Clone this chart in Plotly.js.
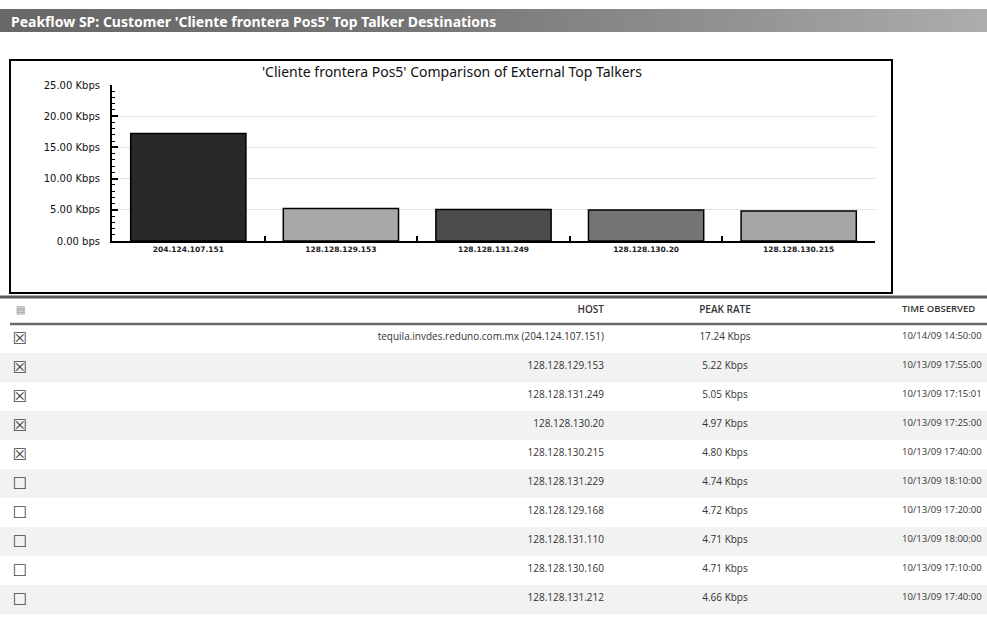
<!DOCTYPE html>
<html><head><meta charset="utf-8">
<script src="https://cdn.plot.ly/plotly-3.0.1.min.js"></script>
<style>
html,body{margin:0;padding:0;background:#fff;}
#wrap{position:relative;width:987px;height:633px;overflow:hidden;}
#bar{position:absolute;left:0;top:9px;width:987px;height:23px;background:linear-gradient(to right,#676767 0%,#747474 40%,#8e8e8e 70%,#adadad 100%);}
#chart{position:absolute;left:0;top:0;width:987px;height:633px;}
</style></head><body>
<div id="wrap"><div id="bar"></div><div id="chart"></div></div>
<script>
// ---- data ----
const pageTitle = "Peakflow SP: Customer 'Cliente frontera Pos5' Top Talker Destinations";
const chartTitle = "'Cliente frontera Pos5' Comparison of External Top Talkers";
const chartHosts = ["204.124.107.151", "128.128.129.153", "128.128.131.249", "128.128.130.20", "128.128.130.215"];
const tableHosts = ["tequila.invdes.reduno.com.mx (204.124.107.151)", "128.128.129.153", "128.128.131.249", "128.128.130.20", "128.128.130.215",
                    "128.128.131.229", "128.128.129.168", "128.128.131.110", "128.128.130.160", "128.128.131.212"];
const tableRates = [17.24, 5.22, 5.05, 4.97, 4.80, 4.74, 4.72, 4.71, 4.71, 4.66];
const tableTimes = ["10/14/09 14:50:00", "10/13/09 17:55:00", "10/13/09 17:15:01", "10/13/09 17:25:00", "10/13/09 17:40:00",
                    "10/13/09 18:10:00", "10/13/09 17:20:00", "10/13/09 18:00:00", "10/13/09 17:10:00", "10/13/09 17:40:00"];
const tableSelected = [true, true, true, true, true, false, false, false, false, false];
const tableHeaders = ["\u25A4", "HOST", "PEAK RATE", "", "TIME OBSERVED"];
const chartRates = tableRates.slice(0, chartHosts.length);
const yTickVals = [0, 5, 10, 15, 20, 25];
const yTickText = ["0.00 bps", "5.00 Kbps", "10.00 Kbps", "15.00 Kbps", "20.00 Kbps", "25.00 Kbps"];
const barColors = ["#282828", "#a9a9a9", "#4c4c4c", "#747474", "#a6a6a6"];

// ---- geometry helpers (page pixels -> paper fractions) ----
const W = 987, H = 633;
const px = v => v / W;
const py = v => 1 - v / H;
const nb = s => s.replace(/ /g, "\u00a0");   // keep cell text on one line

const bars = {
  type: "bar",
  x: chartHosts,
  y: chartRates,
  marker: {color: barColors, line: {color: "#000", width: 1.5}},
  xaxis: "x", yaxis: "y",
  hoverinfo: "x+y"
};

const rowFill = tableHosts.map((_, i) => i % 2 === 1 ? "#f2f2f2" : "#ffffff");
const table = {
  type: "table",
  domain: {x: [0, 1], y: [0, py(297)]},
  columnwidth: [40, 572, 226, 56, 93],
  header: {
    values: tableHeaders.map(nb),
    align: ["center", "right", "center", "left", "left"],
    height: 27,
    fill: {color: "rgba(0,0,0,0)"},
    line: {color: "rgba(0,0,0,0)", width: 0},
    font: {family: "Open Sans", size: [10, 10, 10, 10, 9.5], color: ["#b0b0b0", "#333", "#333", "#333", "#333"], weight: 600}
  },
  cells: {
    values: [
      tableSelected.map(s => s ? "\u2612" : "\u2610"),
      tableHosts.map(nb),
      tableRates.map(r => nb(r.toFixed(2) + " Kbps")),
      tableHosts.map(() => ""),
      tableTimes.map(nb)
    ],
    align: ["center", "right", "center", "left", "left"],
    height: 29,
    fill: {color: [rowFill, rowFill, rowFill, rowFill, rowFill]},
    line: {color: "rgba(0,0,0,0)", width: 0},
    font: {family: ["DejaVu Sans", "Open Sans", "Open Sans", "Open Sans", "Open Sans"], size: [16, 10, 10, 10, 9.5],
           color: ["#444", "#333", "#333", "#333", "#333"]}
  }
};

const layout = {
  width: W, height: H,
  margin: {l: 0, r: 0, t: 0, b: 0},
  paper_bgcolor: "rgba(0,0,0,0)",
  plot_bgcolor: "#fff",
  showlegend: false,
  title: {
    text: chartTitle,
    x: px(452), y: py(72), xref: "paper", yref: "paper",
    xanchor: "center", yanchor: "middle",
    font: {family: "Noto Sans", size: 14, color: "#111"}
  },
  xaxis: {
    domain: [px(112), px(875)],
    type: "category",
    showline: true, linecolor: "#000", linewidth: 2,
    ticks: "inside", tickson: "boundaries", ticklen: 5, tickcolor: "#000", tickwidth: 1.5,
    showgrid: false, zeroline: false,
    tickfont: {family: "DejaVu Sans", size: 7.5, color: "#222", weight: 700},
    fixedrange: true
  },
  yaxis: {
    domain: [py(241), py(85)],
    range: [0, 25],
    showline: true, linecolor: "#000", linewidth: 2,
    ticks: "inside", ticklen: 6, tickcolor: "#000", tickwidth: 1.5,
    tickvals: yTickVals, ticktext: yTickText,
    ticklabelstandoff: 8,
    minor: {dtick: 1, ticks: "inside", ticklen: 3, tickcolor: "#000", tickwidth: 1, showgrid: false},
    showgrid: true, gridcolor: "#e2e2e2", gridwidth: 1,
    zeroline: false,
    tickfont: {family: "DejaVu Sans", size: 10, color: "#111"},
    fixedrange: true
  },
  bargap: 0.245,
  annotations: [{
    text: "<b>" + pageTitle + "</b>",
    xref: "paper", yref: "paper", x: px(9), y: py(21),
    xanchor: "left", yanchor: "middle", showarrow: false,
    font: {family: "Noto Sans", size: 14, color: "#fff"}
  }],
  shapes: [
    {type: "rect", xref: "paper", yref: "paper", x0: px(10), x1: px(892), y0: py(293), y1: py(60),
     line: {color: "#000", width: 2}, fillcolor: "rgba(0,0,0,0)", layer: "above"},
    {type: "line", xref: "paper", yref: "paper", x0: 0, x1: 1, y0: py(297), y1: py(297),
     line: {color: "#5a5a5a", width: 3}},
    {type: "line", xref: "paper", yref: "paper", x0: px(10), x1: 1, y0: py(324), y1: py(324),
     line: {color: "#6a6a6a", width: 2.5}}
  ]
};

Plotly.newPlot("chart", [bars, table], layout, {displayModeBar: false});
</script>
</body></html>
